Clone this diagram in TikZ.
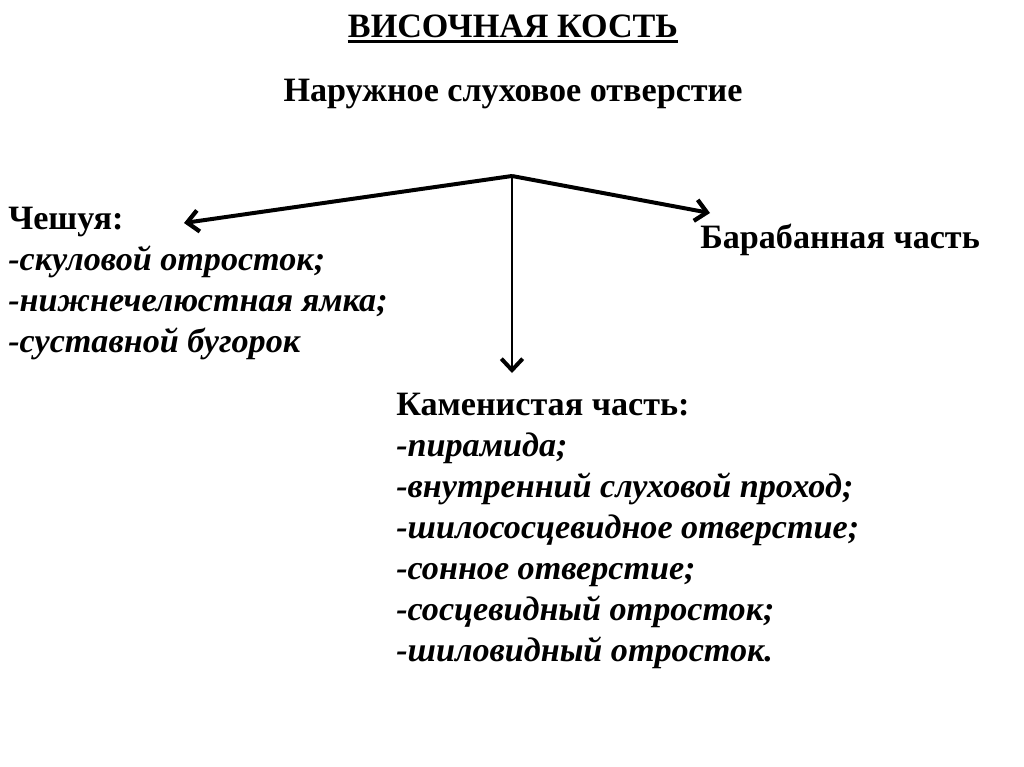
\documentclass[tikz,border=0pt]{standalone}
\usepackage{fontspec}
\setmainfont{Liberation Serif}
\usetikzlibrary{arrows.meta}
\begin{document}
\begin{tikzpicture}[x=0.703pt,y=-0.703pt,
  txt/.style={inner sep=0pt,font=\fontsize{24}{29}\selectfont\bfseries},
  itm/.style={txt,font=\fontsize{24}{29}\selectfont\bfseries\itshape},
  arr/.style={line width=2.8pt,-{Straight Barb[length=8pt,width=15pt,line width=3pt]}},
  varr/.style={line width=1.5pt,-{Straight Barb[length=8pt,width=15pt,line width=2.8pt]}}]
\useasboundingbox (0,0) rectangle (1024,767);
\node[txt,anchor=base] (title) at (513,37) {ВИСОЧНАЯ КОСТЬ};
\draw[line width=1.8pt] ([yshift=-3pt]title.base west) -- ([yshift=-3pt]title.base east);
\node[txt,anchor=base] (ext) at (513,101) {Наружное слуховое отверстие};
\coordinate (apex) at (512,176);
\coordinate (lt) at (184,223);
\coordinate (rt) at (710,213);
\coordinate (dt) at (512,373);
\draw[arr] (apex) -- (lt);
\draw[arr] (apex) -- (rt);
\draw[varr] (apex) -- (dt);
% Scale
\node[txt,anchor=base west] (s0) at (8,229) {Чешуя:};
\node[itm,anchor=base west] (s1) at (8,270) {-скуловой отросток;};
\node[itm,anchor=base west] (s2) at (8,311) {-нижнечелюстная ямка;};
\node[itm,anchor=base west] (s3) at (8,352) {-суставной бугорок};
% Tympanic
\node[txt,anchor=base west] (tymp) at (700,248) {Барабанная часть};
% Petrous
\node[txt,anchor=base west] (p0) at (396,415) {Каменистая часть:};
\node[itm,anchor=base west] (p1) at (396,456) {-пирамида;};
\node[itm,anchor=base west] (p2) at (396,497) {-внутренний слуховой проход;};
\node[itm,anchor=base west] (p3) at (396,538) {-шилососцевидное отверстие;};
\node[itm,anchor=base west] (p4) at (396,579) {-сонное отверстие;};
\node[itm,anchor=base west] (p5) at (396,620) {-сосцевидный отросток;};
\node[itm,anchor=base west] (p6) at (396,661) {-шиловидный отросток.};
\end{tikzpicture}
\end{document}
